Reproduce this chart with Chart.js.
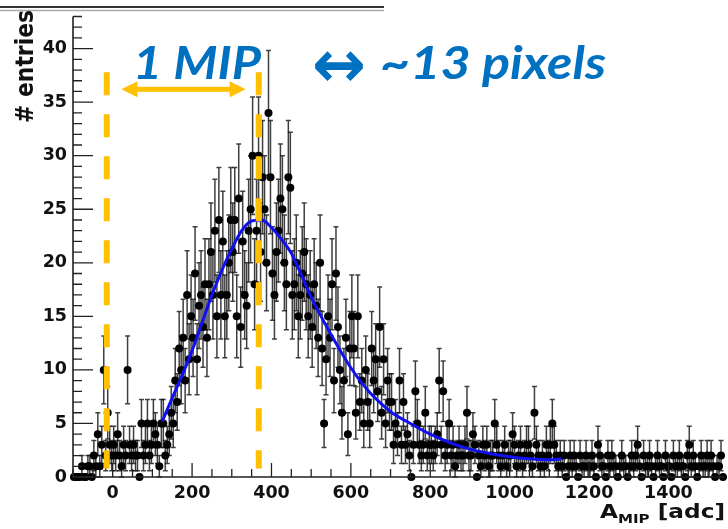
<!DOCTYPE html>
<html lang="en">
<head>
<meta charset="utf-8" />
<title>A_MIP spectrum</title>
<script src="https://cdn.jsdelivr.net/npm/chart.js@4.4.1/dist/chart.umd.min.js"></script>
<style>
  html, body { margin: 0; padding: 0; background: #fff; }
</style>
</head>
<body>
<canvas id="myChart" width="728" height="529"></canvas>
<script>
// histogram: 5 adc bins starting at -100
var binLow = -100;
var binWidth = 5;
var entries = [
  0,0,0,0,1,0,0,1,1,0,2,1,4,1,3,10,2,6,3,2,
  3,2,4,2,1,3,2,10,3,2,3,2,2,0,5,2,3,5,2,3,
  5,4,3,1,5,5,2,3,4,6,5,9,7,12,10,13,9,17,11,15,
  13,19,11,16,17,14,18,13,18,21,17,23,15,24,17,22,15,17,20,24,
  21,24,15,26,14,22,17,16,23,25,30,18,23,30,21,28,25,20,34,28,
  19,17,21,23,26,25,20,18,28,27,17,18,20,15,17,19,21,18,15,17,
  14,18,16,13,20,12,5,11,15,13,18,9,19,14,10,6,9,13,4,12,
  15,12,6,15,7,9,5,10,7,5,12,9,11,8,14,6,11,5,9,7,
  7,3,5,4,9,3,7,3,4,2,0,3,8,5,3,2,3,6,2,3,
  3,2,3,4,9,3,8,2,3,5,2,3,1,2,3,2,2,3,6,2,
  2,4,3,0,2,1,3,2,3,1,2,2,5,3,2,1,2,3,1,2,
  2,4,3,1,2,3,1,2,3,3,2,1,6,3,2,1,2,1,3,2,
  3,5,3,2,1,2,1,2,0,1,2,1,2,1,0,2,1,1,2,1,
  1,2,1,0,3,2,1,1,0,2,1,2,1,1,0,1,2,1,1,0,
  1,2,1,2,3,1,0,2,1,1,2,1,0,1,2,1,1,0,2,1,
  1,0,2,1,1,2,1,1,0,2,3,1,2,1,0,1,2,1,1,2,
  1,2,1,0,1,1,2,0
];

// fitted curve
var fitX = [125,150,175,200,225,250,275,300,325,350,375,400,425,450,475,500,525,550,575,600,625,650,675,700,750,800,850,900,950,1000,1050,1100,1130];
var fitY = [5.2,7.4,9.5,11.8,14.4,17.0,19.3,21.3,23.0,23.9,24.0,23.3,22.2,20.9,18.9,16.8,15.0,13.3,11.7,10.2,8.9,7.8,6.9,6.1,5.0,4.0,3.2,2.6,2.2,1.9,1.7,1.6,1.7];

var xTicks = [0,200,400,600,800,1000,1200,1400];
var yTicks = [0,5,10,15,20,25,30,35,40];

// 1 MIP markers (adc values)
var mipLines = [-15, 368];
var mipArrow = [22, 335];

var binCenters = entries.map(function (n, i) { return binLow + (i + 0.5) * binWidth; });
var histPoints = entries.map(function (n, i) { return { x: binCenters[i], y: n }; });
var fitPoints = fitX.map(function (x, i) { return { x: x, y: fitY[i] }; });

var GOLD = '#FFC000';
var BLUE = '#0070C0';

function fitText(ctx, str, font, x, baseline, width) {
  ctx.font = font;
  var w = ctx.measureText(str).width;
  ctx.save();
  ctx.translate(x, baseline);
  ctx.scale(width / w, 1);
  ctx.fillText(str, 0, 0);
  ctx.restore();
}

var rootPlugin = {
  id: 'rootPlugin',
  beforeDatasetsDraw: function (chart) {
    var ctx = chart.ctx, xs = chart.scales.x, ys = chart.scales.y;
    ctx.save();
    ctx.strokeStyle = 'rgba(15,15,15,0.8)';
    ctx.lineWidth = 1.5;
    for (var i = 0; i < entries.length; i++) {
      var n = entries[i];
      if (n <= 0) continue;
      var e = Math.sqrt(n);
      var px = xs.getPixelForValue(binCenters[i]);
      var top = ys.getPixelForValue(n + e);
      var bot = ys.getPixelForValue(Math.max(n - e, 0));
      var py = ys.getPixelForValue(n);
      ctx.beginPath();
      ctx.moveTo(px, top); ctx.lineTo(px, bot);
      ctx.moveTo(px - 2.5, top); ctx.lineTo(px + 2.5, top);
      ctx.moveTo(px - 2.5, bot); ctx.lineTo(px + 2.5, bot);
      ctx.moveTo(xs.getPixelForValue(binCenters[i] - binWidth / 2), py);
      ctx.lineTo(xs.getPixelForValue(binCenters[i] + binWidth / 2), py);
      ctx.stroke();
    }
    ctx.restore();
  },
  afterDatasetsDraw: function (chart) {
    var ctx = chart.ctx, xs = chart.scales.x, ys = chart.scales.y;
    ctx.save();
    // dashed lines
    ctx.strokeStyle = GOLD;
    ctx.lineWidth = 6;
    ctx.setLineDash([23, 19]);
    mipLines.forEach(function (v) {
      var px = xs.getPixelForValue(v);
      ctx.beginPath();
      ctx.moveTo(px, ys.getPixelForValue(37.8));
      ctx.lineTo(px, ys.getPixelForValue(0.8));
      ctx.stroke();
    });
    ctx.setLineDash([]);
    // double arrow
    var x1 = xs.getPixelForValue(mipArrow[0]), x2 = xs.getPixelForValue(mipArrow[1]);
    var ay = ys.getPixelForValue(36.2);
    ctx.fillStyle = GOLD;
    ctx.fillRect(x1 + 12, ay - 2.5, x2 - x1 - 24, 5);
    ctx.beginPath();
    ctx.moveTo(x1, ay); ctx.lineTo(x1 + 16, ay - 8); ctx.lineTo(x1 + 16, ay + 8); ctx.closePath();
    ctx.moveTo(x2, ay); ctx.lineTo(x2 - 16, ay - 8); ctx.lineTo(x2 - 16, ay + 8); ctx.closePath();
    ctx.fill();
    ctx.restore();
  },
  afterDraw: function (chart) {
    var ctx = chart.ctx, xs = chart.scales.x, ys = chart.scales.y;
    var area = chart.chartArea;
    ctx.save();
    // frame line at the top
    ctx.strokeStyle = '#333';
    ctx.lineWidth = 2;
    ctx.beginPath(); ctx.moveTo(0, 7); ctx.lineTo(384, 7); ctx.stroke();
    ctx.strokeStyle = '#aaa';
    ctx.lineWidth = 1.5;
    ctx.beginPath(); ctx.moveTo(0, 10.5); ctx.lineTo(384, 10.5); ctx.stroke();

    // axes
    ctx.strokeStyle = '#222';
    ctx.lineWidth = 1.6;
    ctx.beginPath();
    ctx.moveTo(area.left, area.top); ctx.lineTo(area.left, area.bottom);
    ctx.lineTo(area.right, area.bottom);
    ctx.stroke();

    // inner ticks
    ctx.lineWidth = 1.3;
    ctx.beginPath();
    for (var v = 0; v <= 43; v++) {
      var py = ys.getPixelForValue(v);
      var len = v % 5 === 0 ? 20 : 9;
      ctx.moveTo(area.left, py); ctx.lineTo(area.left + len, py);
    }
    for (var xv = -100; xv <= 1540; xv += 50) {
      var px = xs.getPixelForValue(xv);
      var l2 = xv % 200 === 0 ? 14 : 8;
      ctx.moveTo(px, area.bottom); ctx.lineTo(px, area.bottom - l2);
    }
    ctx.stroke();

    // axis titles
    ctx.fillStyle = '#111';
    ctx.save();
    ctx.translate(33, 10);
    ctx.rotate(-Math.PI / 2);
    ctx.textAlign = 'right';
    ctx.textBaseline = 'alphabetic';
    ctx.font = 'bold 22px "DejaVu Sans"';
    var we = ctx.measureText('# entries').width;
    ctx.scale(113 / we, 1.15);
    ctx.fillText('# entries', 0, 0);
    ctx.restore();

    ctx.textAlign = 'left';
    ctx.textBaseline = 'alphabetic';
    ctx.font = 'bold 20px "DejaVu Sans"';
    var wA = ctx.measureText('A').width;
    var wB = ctx.measureText(' [adc]').width;
    ctx.font = 'bold 13px "DejaVu Sans"';
    var wM = ctx.measureText('MIP').width;
    var k = 125 / (wA + wM + wB);
    ctx.save();
    ctx.translate(600, 518);
    ctx.scale(k, 1);
    ctx.font = 'bold 20px "DejaVu Sans"';
    ctx.fillText('A', 0, 0);
    ctx.font = 'bold 13px "DejaVu Sans"';
    ctx.fillText('MIP', wA, 5);
    ctx.font = 'bold 20px "DejaVu Sans"';
    ctx.fillText(' [adc]', wA + wM, 0);
    ctx.restore();

    // slide annotation
    ctx.fillStyle = BLUE;
    fitText(ctx, '1 MIP', 'italic bold 45px Lato', 133, 79, 128);
    ctx.font = 'bold 60px "DejaVu Sans"';
    var m = ctx.measureText('\u2194');
    var off = (m.actualBoundingBoxAscent - m.actualBoundingBoxDescent) / 2;
    ctx.save();
    ctx.translate(312, 66);
    ctx.scale(54 / m.width, 1.1);
    ctx.fillText('\u2194', 0, off);
    ctx.restore();
    fitText(ctx, '~13 pixels', 'italic bold 45px Lato', 380, 79, 226);
    ctx.restore();
  }
};

var tickFont = { family: '"DejaVu Sans"', weight: 'bold', size: 17.5 };

new Chart(document.getElementById('myChart').getContext('2d'), {
  type: 'scatter',
  data: {
    datasets: [
      {
        label: 'fit',
        data: fitPoints,
        showLine: true,
        borderColor: '#1010f0',
        borderWidth: 3,
        pointRadius: 0,
        cubicInterpolationMode: 'monotone',
        order: 0,
        clip: false
      },
      {
        label: 'entries',
        data: histPoints,
        pointRadius: 4,
        pointBackgroundColor: '#000',
        pointBorderWidth: 0,
        order: 1,
        clip: false
      }
    ]
  },
  options: {
    responsive: false,
    animation: false,
    layout: { padding: { top: 10, left: 0, right: 0, bottom: 0 } },
    plugins: { legend: { display: false }, tooltip: { enabled: false } },
    scales: {
      x: {
        type: 'linear',
        min: -100,
        max: 1540,
        afterFit: function (s) { s.height = 52; },
        afterBuildTicks: function (s) { s.ticks = xTicks.map(function (v) { return { value: v }; }); },
        grid: { display: false, drawTicks: false, tickLength: 0 },
        border: { display: false },
        ticks: {
          autoSkip: false, maxRotation: 0, padding: 6, color: '#111', font: tickFont,
          callback: function (v) { return String(v); }
        }
      },
      y: {
        type: 'linear',
        min: 0,
        max: 43,
        afterFit: function (s) { s.width = 73; },
        afterBuildTicks: function (s) { s.ticks = yTicks.map(function (v) { return { value: v }; }); },
        grid: { display: false, drawTicks: false, tickLength: 0 },
        border: { display: false },
        ticks: {
          autoSkip: false, padding: 6, color: '#111', font: tickFont,
          callback: function (v) { return String(v); }
        }
      }
    }
  },
  plugins: [rootPlugin]
});
</script>
</body>
</html>
